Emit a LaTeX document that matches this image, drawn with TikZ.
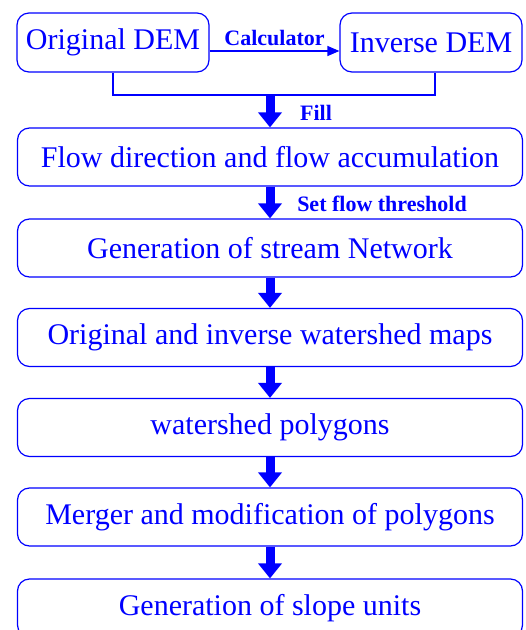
\documentclass[tikz,border=0pt]{standalone}
\usepackage{fontspec}
\IfFontExistsTF{LiberationSerif-Regular.ttf}
  {\setmainfont{LiberationSerif}[Extension=.ttf, UprightFont=*-Regular, BoldFont=*-Bold,
     ItalicFont=*-Italic, BoldItalicFont=*-BoldItalic]}
  {\setmainfont{Latin Modern Roman}}
\usetikzlibrary{arrows.meta}
\definecolor{flowblue}{HTML}{0000FF}

\begin{document}
\begin{tikzpicture}
  [x=1pt, y=-1pt, flowblue,
   stage/.style={draw, line width=1.2pt, rounded corners=12pt, text=flowblue,
                 font=\fontsize{30}{30}\selectfont, inner sep=0pt},
   wide/.style={stage, minimum width=505pt, minimum height=58pt},
   bigarrow/.style={line width=9pt, -{Triangle[width=23pt,length=15pt]}},
   note/.style={text=flowblue, font=\fontsize{22}{22}\selectfont\bfseries, inner sep=0pt}]
  \useasboundingbox (0,0) rectangle (526,630);

  %Draw the two DEM boxes
  \node[stage, minimum width=192pt, minimum height=59pt] (dem) at (113,42.5) {Original DEM};
  \node[stage, minimum width=182pt, minimum height=59pt] (inv) at (431,42.5) {Inverse DEM};
  \draw[line width=1.2pt, -{Triangle[width=10pt,length=12pt]}]
    ([yshift=-8.5pt]dem.east) -- ([yshift=-8.5pt]inv.west)
    node[note, midway, above=5pt] {Calculator};

  %Join both DEMs
  \coordinate (join) at (270,95);
  \draw[line width=2pt] (dem.south) |- (join) -| (inv.south -| 435,0);

  %Draw the stages
  \foreach \i/\y/\txt in {2/157/{Flow direction and flow accumulation},
                          3/248/{Generation of stream Network},
                          4/337.5/{Original and inverse watershed maps},
                          5/427.5/{watershed polygons},
                          6/517/{Merger and modification of polygons},
                          7/608/{Generation of slope units}} {
    \node[wide] (S\i) at (270,\y) {\txt};
  }

  %Draw the arrows between stages
  \draw[bigarrow] (join) -- (join |- S2.north);
  \foreach \i [evaluate=\i as \j using int(\i+1)] in {2,...,6} {
    \draw[bigarrow] (S\i.south) -- (S\j.north);
  }
  \node[note] (fill) at (316,113) {Fill};
  \node[note] (thr) at (382,204) {Set flow threshold};
\end{tikzpicture}
\end{document}
